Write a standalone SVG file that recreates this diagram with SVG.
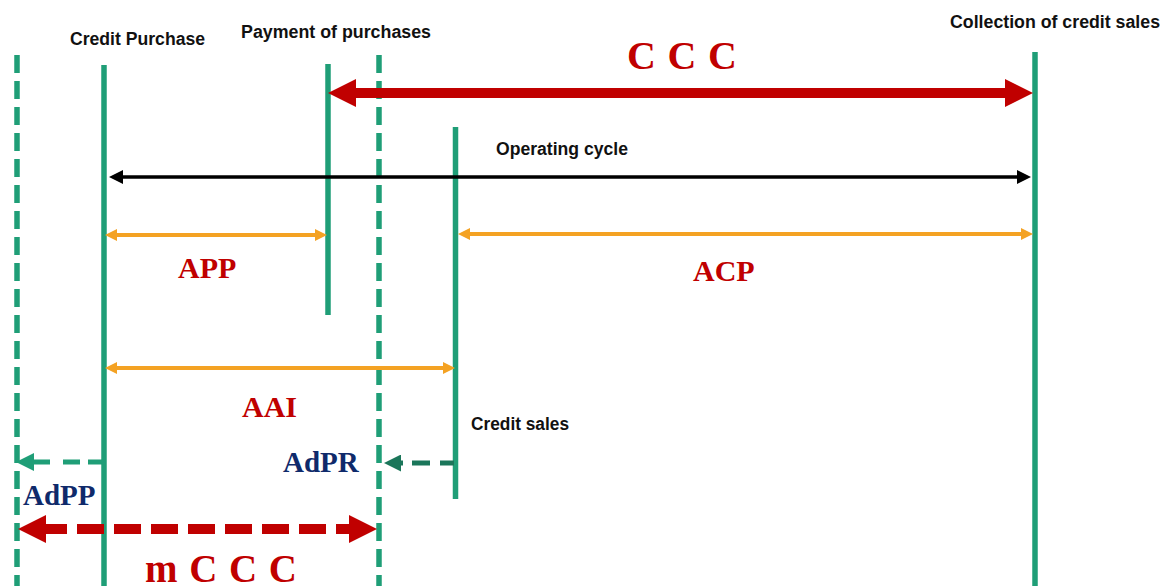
<svg xmlns="http://www.w3.org/2000/svg" width="1167" height="586" viewBox="0 0 1167 586">
  <style>
    .vline { stroke: #1F9E77; stroke-width: 5.5; fill: none; }
    .vdash { stroke: #1F9E77; stroke-width: 5.5; fill: none; stroke-dasharray: 18 8; }
    .lbl { font-family: "Liberation Sans", Arial, sans-serif; font-weight: bold; font-size: 17.5px; fill: #111111; }
    .big { font-family: "Liberation Serif", "Times New Roman", serif; font-weight: bold; }
    .red { fill: #C00000; }
    .navy { fill: #0F2A6B; }
  </style>
  <defs>
    <marker id="redHead" markerUnits="userSpaceOnUse" markerWidth="28" markerHeight="28" viewBox="0 0 28 28" refX="1" refY="14" orient="auto-start-reverse">
      <path d="M0,0 L28,14 L0,28 z" fill="#C00000"/>
    </marker>
    <marker id="blackHead" markerUnits="userSpaceOnUse" markerWidth="14" markerHeight="14" viewBox="0 0 14 14" refX="1" refY="7" orient="auto-start-reverse">
      <path d="M0,0 L14,7 L0,14 z" fill="#000000"/>
    </marker>
    <marker id="orangeHead" markerUnits="userSpaceOnUse" markerWidth="12" markerHeight="12" viewBox="0 0 12 12" refX="1" refY="6" orient="auto-start-reverse">
      <path d="M0,0 L12,6 L0,12 z" fill="#F4A223"/>
    </marker>
    <marker id="greenHead" markerUnits="userSpaceOnUse" markerWidth="18" markerHeight="18" viewBox="0 0 18 18" refX="1" refY="9" orient="auto">
      <path d="M0,0 L18,9 L0,18 z" fill="#1F9E77"/>
    </marker>
    <marker id="dgreenHead" markerUnits="userSpaceOnUse" markerWidth="17" markerHeight="17" viewBox="0 0 17 17" refX="1" refY="8.5" orient="auto">
      <path d="M0,0 L17,8.5 L0,17 z" fill="#1B765A"/>
    </marker>
  </defs>

  <!-- timeline nodes -->
  <g id="limit-left">
    <line class="vdash" x1="17" y1="55" x2="17" y2="586"/>
  </g>
  <g id="credit-purchase">
    <line class="vline" x1="104" y1="65" x2="104" y2="586"/>
    <text class="lbl" x="70" y="45" textLength="135" lengthAdjust="spacingAndGlyphs">Credit Purchase</text>
  </g>
  <g id="payment-of-purchases">
    <line class="vline" x1="328" y1="64" x2="328" y2="315"/>
    <text class="lbl" x="241" y="37.5" textLength="190" lengthAdjust="spacingAndGlyphs">Payment of purchases</text>
  </g>
  <g id="limit-right">
    <line class="vdash" x1="379" y1="55" x2="379" y2="586"/>
  </g>
  <g id="credit-sales">
    <line class="vline" x1="455.5" y1="127" x2="455.5" y2="499"/>
    <text class="lbl" x="471" y="430" textLength="98" lengthAdjust="spacingAndGlyphs">Credit sales</text>
  </g>
  <g id="collection-of-credit-sales">
    <line class="vline" x1="1035" y1="52" x2="1035" y2="586"/>
    <text class="lbl" x="950" y="27.5" textLength="210" lengthAdjust="spacingAndGlyphs">Collection of credit sales</text>
  </g>

  <!-- connectors -->
  <g id="connectors">
    <line x1="355" y1="93" x2="1006" y2="93" stroke="#C00000" stroke-width="10" marker-start="url(#redHead)" marker-end="url(#redHead)"/>
    <line x1="122" y1="177" x2="1018" y2="177" stroke="#000000" stroke-width="3.5" marker-start="url(#blackHead)" marker-end="url(#blackHead)"/>
    <line x1="116" y1="235" x2="316" y2="235" stroke="#F4A223" stroke-width="4" marker-start="url(#orangeHead)" marker-end="url(#orangeHead)"/>
    <line x1="469" y1="234" x2="1022" y2="234" stroke="#F4A223" stroke-width="4" marker-start="url(#orangeHead)" marker-end="url(#orangeHead)"/>
    <line x1="116" y1="368" x2="444" y2="368" stroke="#F4A223" stroke-width="4" marker-start="url(#orangeHead)" marker-end="url(#orangeHead)"/>
    <path d="M102,462 H88 M80,462 H63 M50,462 H33" stroke="#1F9E77" stroke-width="5" fill="none" marker-end="url(#greenHead)"/>
    <path d="M454,463 H440 M430,463 H412 M403,463 H400" stroke="#1B765A" stroke-width="5" fill="none" marker-end="url(#dgreenHead)"/>
    <line x1="45" y1="529" x2="350" y2="529" stroke="#C00000" stroke-width="10" stroke-dasharray="27 10" stroke-dashoffset="5" marker-start="url(#redHead)" marker-end="url(#redHead)"/>
  </g>

  <!-- connector labels -->
  <g id="labels">
    <text class="big red" x="627" y="69" font-size="40" textLength="110" lengthAdjust="spacing">C C C</text>
    <text class="lbl" x="496" y="155" textLength="132" lengthAdjust="spacingAndGlyphs">Operating cycle</text>
    <text class="big red" x="178" y="278" font-size="30">APP</text>
    <text class="big red" x="693" y="281" font-size="30">ACP</text>
    <text class="big red" x="242" y="417" font-size="30">AAI</text>
    <text class="big navy" x="283" y="472" font-size="29">AdPR</text>
    <text class="big navy" x="23" y="505" font-size="29">AdPP</text>
    <text class="big red" x="145" y="582" font-size="39" textLength="152" lengthAdjust="spacing">m C C C</text>
  </g>
</svg>
